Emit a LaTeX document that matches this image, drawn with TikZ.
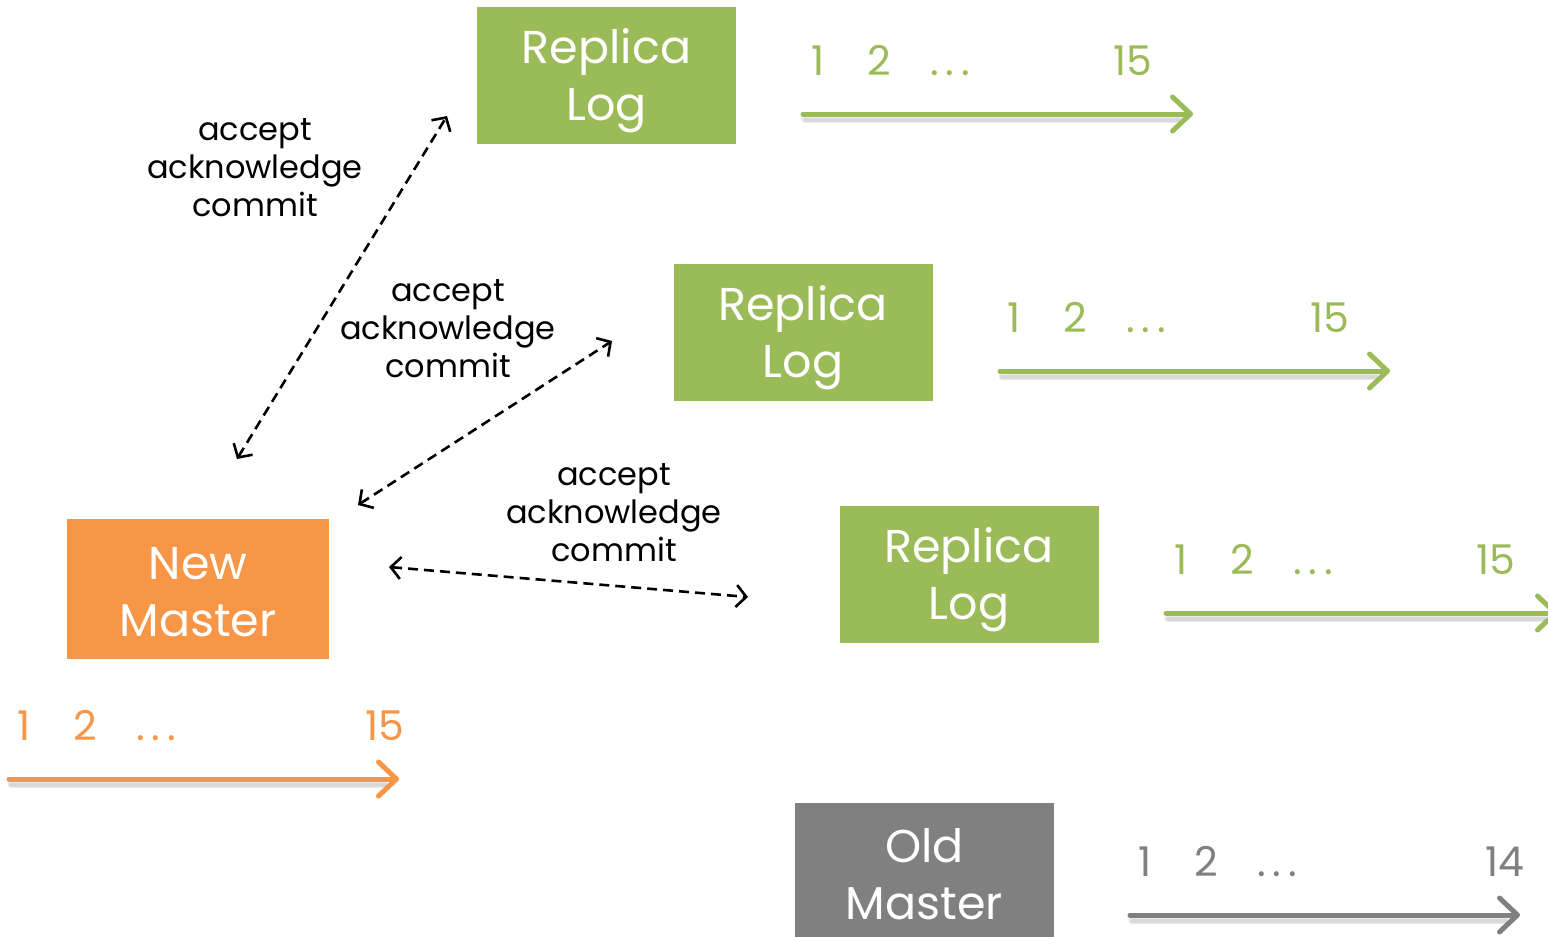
\documentclass[tikz,border=0pt]{standalone}
\usepackage{fontspec}
\setmainfont{Poppins}
\usetikzlibrary{arrows.meta}
\definecolor{rgreen}{HTML}{9BBB59}
\definecolor{morange}{HTML}{F79646}
\definecolor{mgray}{HTML}{808080}
\newcommand{\spreaddots}{.\kern7pt.\kern7pt.}
\begin{document}
\begin{tikzpicture}[x=1pt,y=-1pt,
  box/.style={rectangle,minimum width=259pt,minimum height=137pt,inner sep=0pt},
  boxtext/.style={align=center,inner sep=0pt,text=white,font=\fontsize{46}{57}\selectfont},
  num/.style={inner sep=0pt,anchor=base,font=\fontsize{41}{41}\selectfont},
  msg/.style={align=center,inner sep=0pt,font=\fontsize{32}{38}\selectfont},
  logline/.style={line width=5pt,line cap=round,
    -{Straight Barb[length=18pt,width=34pt,line cap=round,line join=round]}},
  shadowline/.style={line width=7pt,line cap=round,draw=black,opacity=0.08},
  link/.style={line width=2.6pt,dash pattern=on 10pt off 6pt,
    {Straight Barb[length=10pt,width=22pt]}-{Straight Barb[length=10pt,width=22pt]}}]
\useasboundingbox (0,0) rectangle (1548,937);

% boxes
\node[box,fill=rgreen] (r1) at (606.5,75.5) {};
\node[box,fill=rgreen] (r2) at (803,332.5) {};
\node[box,fill=rgreen] (r3) at (969,574.5) {};
\node[box,fill=morange,minimum width=262pt,minimum height=140pt] (nm) at (198,589) {};
\node[box,fill=mgray,minimum height=140pt] (om) at (924.5,873) {};

\node[boxtext] (r1t) at ([shift={(0,5)}]r1.center) {Replica\\Log};
\node[boxtext] (r2t) at ([shift={(0,5)}]r2.center) {Replica\\Log};
\node[boxtext] (r3t) at ([shift={(0,5)}]r3.center) {Replica\\Log};
\node[boxtext] (nmt) at ([shift={(0,3)}]nm.center) {New\\Master};
\node[boxtext] (omt) at ([shift={(0,1)}]om.center) {Old\\Master};

% log axes: soft shadow, then the arrow
\foreach \name/\xa/\xb/\y/\col in {l1/803/1193/114/rgreen, l2/1000/1390/371/rgreen,
    l3/1166/1558/613/rgreen, l4/9/399/779/morange, l5/1130/1520/915/mgray}{
  \coordinate (\name s) at (\xa,\y);
  \coordinate (\name e) at (\xb,\y);
  \draw[shadowline] ([shift={(2,5)}]\name s) -- ([shift={(-14,5)}]\name e);
  \draw[shadowline,line width=4pt] ([shift={(2,6)}]\name s) -- ([shift={(-14,6)}]\name e);
  \draw[logline,draw=\col] (\name s) -- (\name e);
}

% log positions
\begin{scope}[every node/.style={num}]
\node[text=rgreen] (a1) at (818,75) {1};
\node[text=rgreen] (a2) at (879,75) {2};
\node[text=rgreen] (a3) at (950,75) {\spreaddots};
\node[text=rgreen] (a4) at (1133,75) {15};
\node[text=rgreen] (b1) at (1014,332) {1};
\node[text=rgreen] (b2) at (1075,332) {2};
\node[text=rgreen] (b3) at (1146,332) {\spreaddots};
\node[text=rgreen] (b4) at (1330,332) {15};
\node[text=rgreen] (c1) at (1181,574) {1};
\node[text=rgreen] (c2) at (1242,574) {2};
\node[text=rgreen] (c3) at (1313,574) {\spreaddots};
\node[text=rgreen] (c4) at (1496,574) {15};
\node[text=morange] (d1) at (24,740) {1};
\node[text=morange] (d2) at (85,740) {2};
\node[text=morange] (d3) at (156,740) {\spreaddots};
\node[text=morange] (d4) at (385,740) {15};
\node[text=mgray] (e1) at (1145,876) {1};
\node[text=mgray] (e2) at (1206,876) {2};
\node[text=mgray] (e3) at (1277,876) {\spreaddots};
\node[text=mgray] (e4) at (1505,876) {14};
\end{scope}

% message exchanges between the new master and the replicas
\coordinate (p1) at (237,459);
\coordinate (q1) at (447,116);
\coordinate (p2) at (358,505);
\coordinate (q2) at (612,341);
\coordinate (p3) at (389,567);
\coordinate (q3) at (748,597);
\draw[link] (p1) -- (q1);
\draw[link] (p2) -- (q2);
\draw[link] (p3) -- (q3);

\node[msg] (m1) at (255,168) {accept\\acknowledge\\commit};
\node[msg] (m2) at (448,329) {accept\\acknowledge\\commit};
\node[msg] (m3) at (614,513) {accept\\acknowledge\\commit};
\end{tikzpicture}
\end{document}
